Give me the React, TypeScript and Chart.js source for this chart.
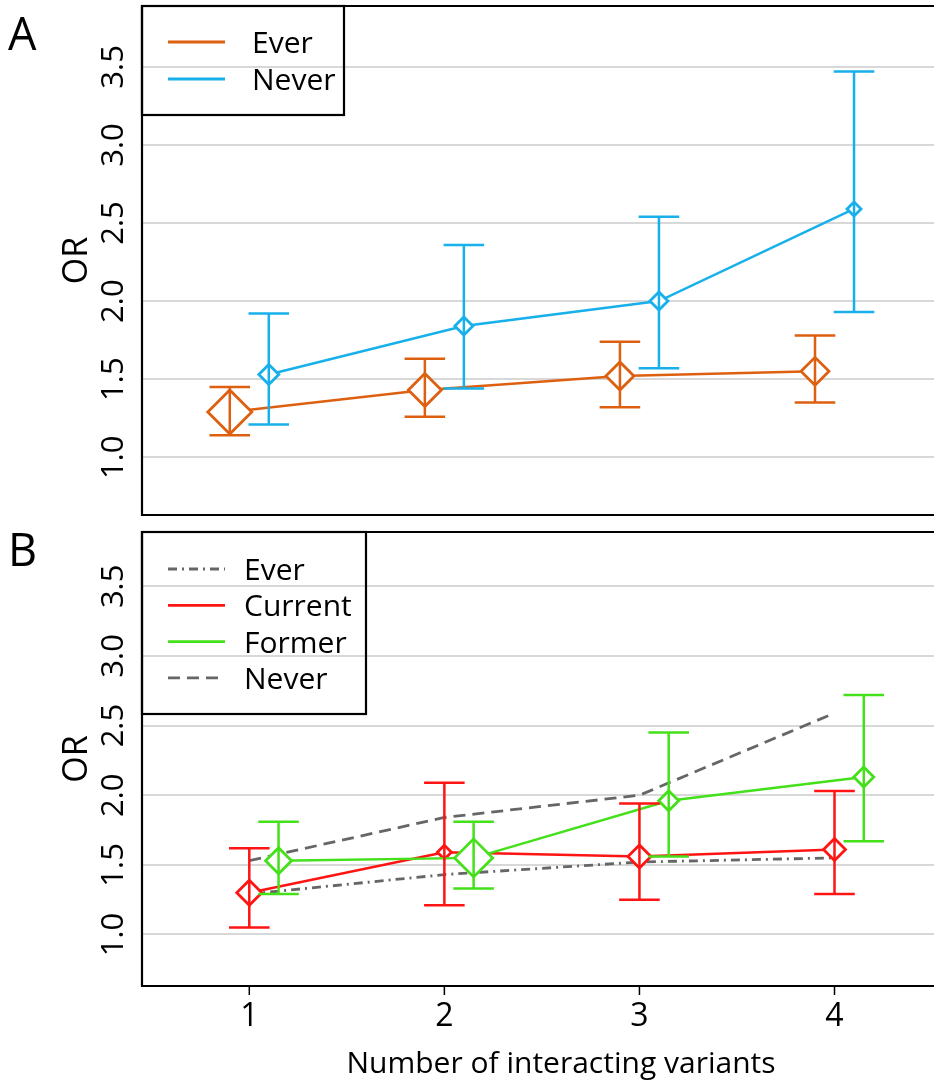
import React, { useEffect, useRef } from 'react';
import { Chart, registerables } from 'chart.js';

Chart.register(...registerables);

// ---------- data ----------
const xCategories = [1, 2, 3, 4];
const yTickValues = [1.0, 1.5, 2.0, 2.5, 3.0, 3.5];
const xTitle = 'Number of interacting variants';
const yTitle = 'OR';

// Panel A
const everOR = [1.29, 1.43, 1.52, 1.55];
const everLow = [1.14, 1.26, 1.32, 1.35];
const everHigh = [1.45, 1.63, 1.74, 1.78];
const neverOR = [1.53, 1.84, 2.0, 2.59];
const neverLow = [1.21, 1.44, 1.57, 1.93];
const neverHigh = [1.92, 2.36, 2.54, 3.47];

// Panel B
const currentOR = [1.3, 1.59, 1.56, 1.61];
const currentLow = [1.05, 1.21, 1.25, 1.29];
const currentHigh = [1.62, 2.09, 1.94, 2.03];
const formerOR = [1.53, 1.55, 1.96, 2.13];
const formerLow = [1.29, 1.33, 1.56, 1.67];
const formerHigh = [1.81, 1.81, 2.45, 2.72];

// marker weights (diamond radius, px)
const everMarkerA = [22, 16.5, 14, 14];
const neverMarkerA = [10, 9, 9, 7];
const currentMarkerB = [12.5, 7, 11.5, 11];
const formerMarkerB = [13, 19, 10, 10];

// ---------- style ----------
const FONT = '"Open Sans", "Noto Sans", sans-serif';
const WEIGHT = '500';
const ORANGE = '#DD6010';
const BLUE = '#18B0EA';
const RED = '#FF1414';
const GREEN = '#44E01A';
const GRAY = '#666666';
const GRID = '#D8D8D8';
const CAP = 0.104;
const X_MIN = 0.45;
const X_MAX = 4.51;
const Y_MIN = 0.63;
const Y_MAX = 3.89;

type Bars = { x: number[]; lo: number[]; hi: number[]; color: string };
type LegendItem = { label: string; color: string; dash: number[] };
type PanelSpec = {
  letter: string;
  letterBaseline: number;
  bars: Bars[];
  legend: { w: number; h: number; firstLine: number; step: number; textX: number; items: LegendItem[] };
  showXAxis: boolean;
};

function shift(offset: number) {
  return xCategories.map((c) => c + offset);
}

function points(offset: number, vals: number[]) {
  return xCategories.map((c, i) => ({ x: c + offset, y: vals[i] }));
}

function panelPlugin(spec: PanelSpec) {
  return {
    id: 'panelDecor' + spec.letter,
    afterDatasetsDraw(chart: any) {
      const { ctx } = chart;
      const xs = chart.scales.x;
      const ys = chart.scales.y;
      ctx.save();
      for (const b of spec.bars) {
        ctx.strokeStyle = b.color;
        ctx.lineWidth = 2.5;
        ctx.setLineDash([]);
        b.x.forEach((xv, i) => {
          const px = xs.getPixelForValue(xv);
          const c0 = xs.getPixelForValue(xv - CAP);
          const c1 = xs.getPixelForValue(xv + CAP);
          const pl = ys.getPixelForValue(b.lo[i]);
          const ph = ys.getPixelForValue(b.hi[i]);
          ctx.beginPath();
          ctx.moveTo(px, pl);
          ctx.lineTo(px, ph);
          ctx.moveTo(c0, pl);
          ctx.lineTo(c1, pl);
          ctx.moveTo(c0, ph);
          ctx.lineTo(c1, ph);
          ctx.stroke();
        });
      }
      ctx.restore();
    },
    afterDraw(chart: any) {
      const { ctx, chartArea } = chart;
      const xs = chart.scales.x;
      const ys = chart.scales.y;
      const { left, top, right, bottom } = chartArea;
      ctx.save();
      ctx.setLineDash([]);
      // frame (top, left, bottom)
      ctx.strokeStyle = '#000';
      ctx.lineWidth = 2.2;
      ctx.beginPath();
      ctx.moveTo(right + 2, top);
      ctx.lineTo(left, top);
      ctx.lineTo(left, bottom);
      ctx.lineTo(right + 2, bottom);
      ctx.stroke();

      // y tick labels (rotated)
      ctx.fillStyle = '#000';
      ctx.font = `${WEIGHT} 31px ${FONT}`;
      ctx.textAlign = 'center';
      ctx.textBaseline = 'alphabetic';
      for (const v of yTickValues) {
        const py = ys.getPixelForValue(v);
        ctx.save();
        ctx.translate(123, py);
        ctx.rotate(-Math.PI / 2);
        ctx.fillText(v.toFixed(1), 0, 0);
        ctx.restore();
      }
      // y title
      ctx.save();
      ctx.font = `${WEIGHT} 34px ${FONT}`;
      ctx.translate(87, (top + bottom) / 2);
      ctx.rotate(-Math.PI / 2);
      ctx.fillText(yTitle, 0, 0);
      ctx.restore();

      // panel letter
      ctx.textAlign = 'left';
      ctx.font = `${WEIGHT} 45px ${FONT}`;
      ctx.fillText(spec.letter, 8, spec.letterBaseline);

      // legend (transparent box)
      const lg = spec.legend;
      ctx.strokeStyle = '#000';
      ctx.lineWidth = 2.2;
      ctx.strokeRect(left, top, lg.w, lg.h);
      ctx.font = `${WEIGHT} 30px ${FONT}`;
      lg.items.forEach((it, i) => {
        const ly = top + lg.firstLine + i * lg.step;
        ctx.strokeStyle = it.color;
        ctx.lineWidth = 2.8;
        ctx.setLineDash(it.dash);
        ctx.beginPath();
        ctx.moveTo(left + 26, ly);
        ctx.lineTo(left + 83, ly);
        ctx.stroke();
        ctx.setLineDash([]);
        ctx.fillStyle = '#000';
        ctx.fillText(it.label, left + lg.textX, ly + 11);
      });

      // x axis ticks, labels, title
      if (spec.showXAxis) {
        ctx.strokeStyle = '#000';
        ctx.lineWidth = 1.5;
        ctx.font = `${WEIGHT} 32px ${FONT}`;
        ctx.textAlign = 'center';
        ctx.fillStyle = '#000';
        for (const c of xCategories) {
          const px = xs.getPixelForValue(c);
          ctx.beginPath();
          ctx.moveTo(px, bottom);
          ctx.lineTo(px, bottom + 9);
          ctx.stroke();
          ctx.fillText(String(c), px, bottom + 40);
        }
        ctx.font = `${WEIGHT} 30px ${FONT}`;
        ctx.fillText(xTitle, 561, bottom + 87);
      }
      ctx.restore();
    },
  };
}

function baseOptions(padTop: number, xAxisHeight: number) {
  return {
    responsive: false,
    animation: false as const,
    layout: { autoPadding: false, padding: { top: padTop, left: 0, right: 0, bottom: 0 } },
    plugins: { legend: { display: false }, tooltip: { enabled: false } },
    scales: {
      x: {
        type: 'linear' as const,
        min: X_MIN,
        max: X_MAX,
        afterBuildTicks: (s: any) => {
          s.ticks = xCategories.map((v) => ({ value: v }));
        },
        afterFit: (s: any) => {
          s.height = xAxisHeight;
        },
        ticks: { display: false },
        grid: { display: false },
        border: { display: false },
      },
      y: {
        type: 'linear' as const,
        min: Y_MIN,
        max: Y_MAX,
        afterBuildTicks: (s: any) => {
          s.ticks = yTickValues.map((v) => ({ value: v }));
        },
        afterFit: (s: any) => {
          s.width = 142;
        },
        ticks: { display: false },
        grid: { color: GRID, lineWidth: 2, drawTicks: false },
        border: { display: false },
      },
    },
  };
}

function lineDataset(label: string, data: any[], color: string, radii: number[] | number, dash: number[], order: number) {
  return {
    label,
    data,
    borderColor: color,
    backgroundColor: color,
    borderWidth: 2.5,
    borderDash: dash,
    pointStyle: 'rectRot',
    pointRadius: radii,
    pointBorderWidth: 2.8,
    pointBorderColor: color,
    pointBackgroundColor: '#ffffff',
    tension: 0,
    fill: false,
    order,
  };
}

export default function App() {
  const refA = useRef<HTMLCanvasElement>(null);
  const refB = useRef<HTMLCanvasElement>(null);

  useEffect(() => {
    const specA: PanelSpec = {
      letter: 'A',
      letterBaseline: 50,
      bars: [
        { x: shift(-0.1), lo: everLow, hi: everHigh, color: ORANGE },
        { x: shift(0.1), lo: neverLow, hi: neverHigh, color: BLUE },
      ],
      legend: {
        w: 202,
        h: 109,
        firstLine: 36,
        step: 37,
        textX: 110,
        items: [
          { label: 'Ever', color: ORANGE, dash: [] },
          { label: 'Never', color: BLUE, dash: [] },
        ],
      },
      showXAxis: false,
    };
    const specB: PanelSpec = {
      letter: 'B',
      letterBaseline: 41,
      bars: [
        { x: shift(0), lo: currentLow, hi: currentHigh, color: RED },
        { x: shift(0.15), lo: formerLow, hi: formerHigh, color: GREEN },
      ],
      legend: {
        w: 224,
        h: 182,
        firstLine: 37,
        step: 36.3,
        textX: 102,
        items: [
          { label: 'Ever', color: GRAY, dash: [9, 5, 2, 5] },
          { label: 'Current', color: RED, dash: [] },
          { label: 'Former', color: GREEN, dash: [] },
          { label: 'Never', color: GRAY, dash: [12, 7] },
        ],
      },
      showXAxis: true,
    };

    const chartA = new Chart(refA.current as HTMLCanvasElement, {
      type: 'line',
      data: {
        datasets: [
          lineDataset('Ever', points(-0.1, everOR), ORANGE, everMarkerA, [], 2),
          lineDataset('Never', points(0.1, neverOR), BLUE, neverMarkerA, [], 1),
        ],
      },
      options: baseOptions(6, 10) as any,
      plugins: [panelPlugin(specA)],
    });

    const chartB = new Chart(refB.current as HTMLCanvasElement, {
      type: 'line',
      data: {
        datasets: [
          { ...lineDataset('Ever', points(0, everOR), GRAY, 0, [9, 5, 2, 5], 4), borderWidth: 2.8 },
          { ...lineDataset('Never', points(0, neverOR), GRAY, 0, [12, 7], 3), borderWidth: 2.8 },
          lineDataset('Current', points(0, currentOR), RED, currentMarkerB, [], 2),
          lineDataset('Former', points(0.15, formerOR), GREEN, formerMarkerB, [], 1),
        ],
      },
      options: baseOptions(7, 95) as any,
      plugins: [panelPlugin(specB)],
    });

    return () => {
      chartA.destroy();
      chartB.destroy();
    };
  }, []);

  return (
    <div style={{ position: 'absolute', left: 0, top: 0, width: 934, height: 1081, background: '#fff' }}>
      <canvas ref={refA} width={934} height={525} style={{ display: 'block', width: 934, height: 525 }} />
      <canvas ref={refB} width={934} height={556} style={{ display: 'block', width: 934, height: 556 }} />
    </div>
  );
}
